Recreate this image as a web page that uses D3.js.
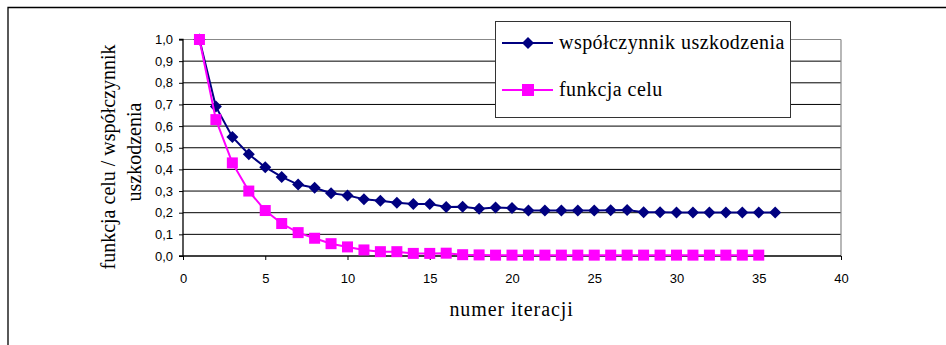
<!DOCTYPE html>
<html>
<head>
<meta charset="utf-8">
<script src="https://cdn.jsdelivr.net/npm/d3@7"></script>
<style>
  html, body { margin: 0; padding: 0; background: #fff; }
  svg { display: block; }
</style>
</head>
<body>
<svg id="chart" width="946" height="345"></svg>
<script>
// Iteration numbers for each series
const iterWsp = d3.range(1, 37);
const iterCel = d3.range(1, 36);

// współczynnik uszkodzenia (damage coefficient) per iteration
const wspolczynnik = [
  1.00, 0.69, 0.55, 0.47, 0.41, 0.365, 0.33, 0.315, 0.29, 0.28,
  0.262, 0.255, 0.246, 0.24, 0.24, 0.226, 0.228, 0.218, 0.224, 0.222,
  0.21, 0.21, 0.21, 0.21, 0.21, 0.211, 0.212, 0.202, 0.202, 0.201,
  0.201, 0.201, 0.201, 0.201, 0.201, 0.201
];

// funkcja celu (objective function) per iteration
const funkcjaCelu = [
  1.00, 0.63, 0.43, 0.30, 0.21, 0.15, 0.108, 0.082, 0.057, 0.042,
  0.028, 0.02, 0.02, 0.012, 0.012, 0.013, 0.006, 0.005, 0.004, 0.004,
  0.004, 0.004, 0.004, 0.004, 0.004, 0.004, 0.004, 0.004, 0.004, 0.004,
  0.004, 0.004, 0.004, 0.004, 0.004
];

const xTicks = [0, 5, 10, 15, 20, 25, 30, 35, 40];
const yTicks = [0, 0.1, 0.2, 0.3, 0.4, 0.5, 0.6, 0.7, 0.8, 0.9, 1.0];

const seriesNames = ["współczynnik uszkodzenia", "funkcja celu"];
const xTitle = "numer iteracji";
const yTitleLines = ["funkcja celu / współczynnik", "uszkodzenia"];

const svg = d3.select("#chart");

// outer frame
svg.append("path")
  .attr("d", "M8,346 L8,7.5 L947,7.5")
  .attr("fill", "none")
  .attr("stroke", "#000")
  .attr("stroke-width", 1.3);

const plot = { left: 183, right: 841, top: 39.5, bottom: 256 };

const x = d3.scaleLinear().domain([0, 40]).range([plot.left, plot.right]);
const y = d3.scaleLinear().domain([0, 1]).range([plot.bottom, plot.top]);

// horizontal gridlines
svg.append("g")
  .selectAll("line")
  .data(yTicks.filter(v => v > 0))
  .join("line")
  .attr("x1", plot.left).attr("x2", plot.right)
  .attr("y1", d => y(d)).attr("y2", d => y(d))
  .attr("stroke", d => d === 1 ? "#888" : "#000")
  .attr("stroke-width", 1);

// right border of the plot area
svg.append("line")
  .attr("x1", plot.right).attr("x2", plot.right)
  .attr("y1", plot.top).attr("y2", plot.bottom)
  .attr("stroke", "#888").attr("stroke-width", 1.2);

const tickFont = "'Liberation Sans', Arial, sans-serif";
const serif = "'Liberation Serif', 'Times New Roman', serif";

// y axis
const yAxis = d3.axisLeft(y)
  .tickValues(yTicks)
  .tickSize(4)
  .tickPadding(6)
  .tickFormat(d => d3.format(".1f")(d).replace(".", ","));
const gy = svg.append("g")
  .attr("transform", `translate(${plot.left},0)`)
  .call(yAxis);
gy.select(".domain").attr("stroke", "#000").attr("stroke-width", 1.3).attr("d", `M-4,${plot.top}H0V${plot.bottom}H-4`);
gy.selectAll(".tick line").attr("stroke", "#000");
gy.selectAll(".tick text")
  .attr("font-family", tickFont).attr("font-size", 13).attr("fill", "#000");

// x axis
const xAxis = d3.axisBottom(x)
  .tickValues(xTicks)
  .tickSize(4)
  .tickPadding(14);
const gx = svg.append("g")
  .attr("transform", `translate(0,${plot.bottom})`)
  .call(xAxis);
gx.select(".domain").attr("stroke", "#000").attr("stroke-width", 1.3).attr("d", `M${plot.left},0H${plot.right}`);
gx.selectAll(".tick line").attr("stroke", "#000");
gx.selectAll(".tick text")
  .attr("font-family", tickFont).attr("font-size", 13).attr("fill", "#000");

// series lines and markers: first series underneath, second on top
const lineWsp = d3.line().x((d, i) => x(iterWsp[i])).y(d => y(d));
const lineCel = d3.line().x((d, i) => x(iterCel[i])).y(d => y(d));

const navy = "#000080";
const magenta = "#ff00ff";

// diamond marker outline, half-width 6 px
const diamondPath = "M0,-6L6,0L0,6L-6,0Z";

svg.append("path").datum(wspolczynnik)
  .attr("d", lineWsp)
  .attr("fill", "none").attr("stroke", navy).attr("stroke-width", 2);

svg.append("g").selectAll("path")
  .data(wspolczynnik)
  .join("path")
  .attr("d", diamondPath)
  .attr("transform", (d, i) => `translate(${x(iterWsp[i])},${y(d)})`)
  .attr("fill", navy);

svg.append("path").datum(funkcjaCelu)
  .attr("d", lineCel)
  .attr("fill", "none").attr("stroke", magenta).attr("stroke-width", 2);

svg.append("g").selectAll("rect")
  .data(funkcjaCelu)
  .join("rect")
  .attr("x", (d, i) => x(iterCel[i]) - 5.5)
  .attr("y", d => y(d) - 5.5)
  .attr("width", 11).attr("height", 11)
  .attr("fill", magenta);

// legend
const lg = svg.append("g");
lg.append("rect")
  .attr("x", 495.5).attr("y", 21.5).attr("width", 295).attr("height", 96)
  .attr("fill", "#fff").attr("stroke", "#333").attr("stroke-width", 1);

const legendRows = [
  { name: seriesNames[0], color: navy, shape: "diamond", cy: 43 },
  { name: seriesNames[1], color: magenta, shape: "square", cy: 90 }
];
legendRows.forEach(r => {
  lg.append("line")
    .attr("x1", 502).attr("x2", 553)
    .attr("y1", r.cy).attr("y2", r.cy)
    .attr("stroke", r.color).attr("stroke-width", 2);
  if (r.shape === "diamond") {
    lg.append("path").attr("d", diamondPath)
      .attr("transform", `translate(528,${r.cy})`).attr("fill", r.color);
  } else {
    lg.append("rect")
      .attr("x", 528 - 6).attr("y", r.cy - 6)
      .attr("width", 12).attr("height", 12).attr("fill", r.color);
  }
  lg.append("text")
    .attr("x", 559).attr("y", r.cy + 6)
    .attr("font-family", serif).attr("font-size", 20)
    .attr("letter-spacing", 0.45)
    .attr("fill", "#000")
    .text(r.name);
});

// axis titles
svg.append("text")
  .attr("x", 511.5).attr("y", 316)
  .attr("text-anchor", "middle")
  .attr("font-family", serif).attr("font-size", 20)
  .attr("letter-spacing", 0.9)
  .attr("fill", "#000")
  .text(xTitle);

const yTitle = svg.append("text")
  .attr("transform", "rotate(-90)")
  .attr("text-anchor", "middle")
  .attr("font-family", serif).attr("font-size", 20)
  .attr("fill", "#000");
yTitle.append("tspan").attr("x", -157).attr("y", 115).text(yTitleLines[0]);
yTitle.append("tspan").attr("x", -152).attr("y", 141).text(yTitleLines[1]);
</script>
</body>
</html>
